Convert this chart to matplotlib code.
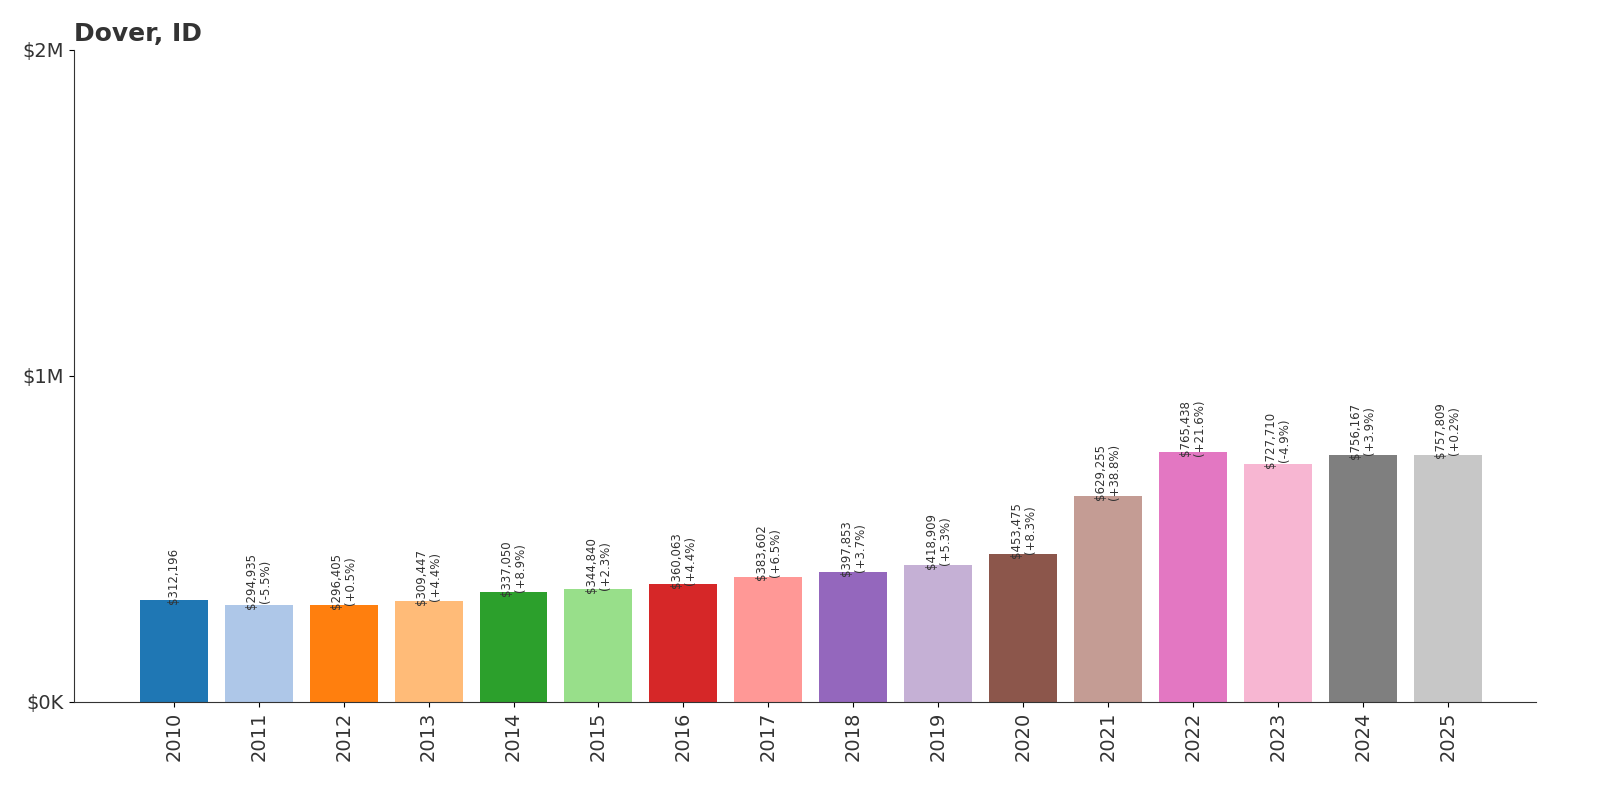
import matplotlib
matplotlib.use("Agg")
import matplotlib.pyplot as plt

years = [str(y) for y in range(2010, 2026)]
values = [312196, 294935, 296405, 309447, 337050, 344840, 360063, 383602,
          397853, 418909, 453475, 629255, 765438, 727710, 756167, 757809]
changes = [None, "-5.5%", "+0.5%", "+4.4%", "+8.9%", "+2.3%", "+4.4%", "+6.5%",
           "+3.7%", "+5.3%", "+8.3%", "+38.8%", "+21.6%", "-4.9%", "+3.9%", "+0.2%"]
ytick_values = [0, 1_000_000, 2_000_000]
ytick_labels = ["$0K", "$1M", "$2M"]

colors = plt.get_cmap("tab20").colors

fig = plt.figure(figsize=(16, 8), dpi=100)
ax = fig.add_axes([0.046, 0.123, 0.914, 0.815])

x = range(len(years))
ax.bar(x, values, width=0.8, color=[colors[i % 20] for i in x])
for i, (v, c) in enumerate(zip(values, changes)):
    label = f"${v:,}" if c is None else f"${v:,}\n({c})"
    ax.text(i, v - 12000, label, rotation=90, ha="center", va="bottom",
            fontsize=8.5, color="#333333", linespacing=1.1)

ax.set_ylim(0, 2_000_000)
ax.set_xlim(-1.18, len(years) - 1 + 1.04)
ax.set_yticks(ytick_values)
ax.set_yticklabels(ytick_labels, fontsize=14, color="#333333")
ax.set_xticks(list(x))
ax.set_xticklabels(years, rotation=90, fontsize=14, color="#333333")
for side in ("top", "right"):
    ax.spines[side].set_visible(False)
ax.spines["left"].set_color("#333333")
ax.spines["bottom"].set_color("#333333")
ax.set_title("Dover, ID", loc="left", fontsize=18, fontweight="bold",
             color="#333333", x=0.0, y=1.0, pad=6)

fig.savefig("out.png", dpi=100)
